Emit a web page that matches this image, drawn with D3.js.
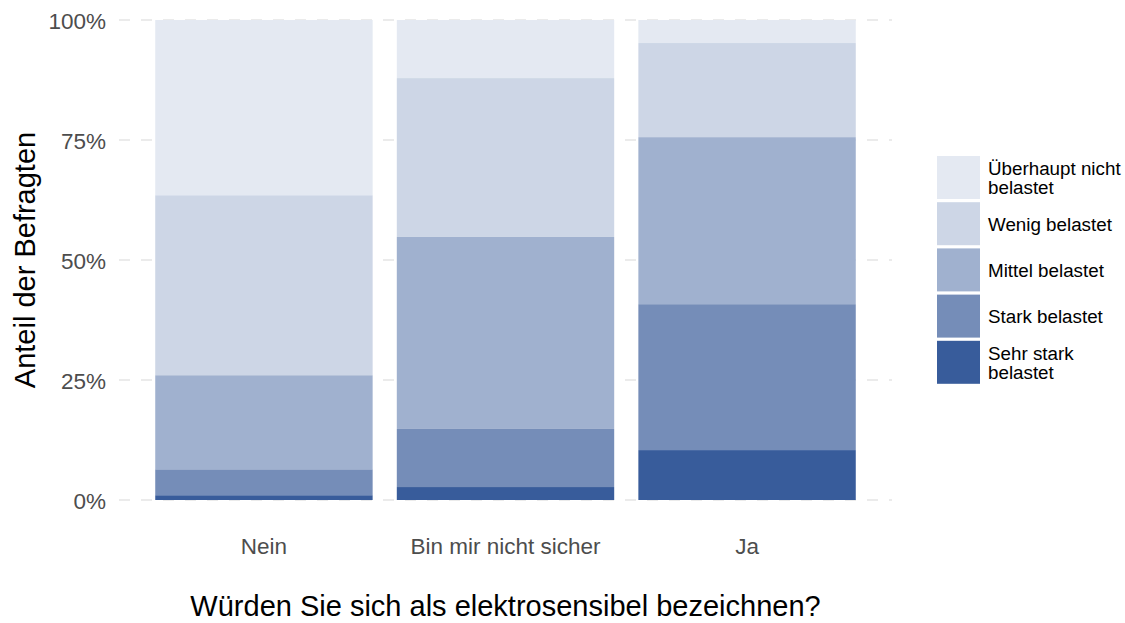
<!DOCTYPE html>
<html>
<head>
<meta charset="utf-8">
<script src="https://cdn.jsdelivr.net/npm/d3@7"></script>
<style>
  body { margin: 0; background: #fff; }
  text { font-family: "Liberation Sans", Arial, Helvetica, sans-serif; }
</style>
</head>
<body>
<script>
// categories on x
var groups = ["Nein", "Bin mir nicht sicher", "Ja"];
// stack levels, bottom to top
var levels = ["Sehr stark belastet", "Stark belastet", "Mittel belastet", "Wenig belastet", "Überhaupt nicht belastet"];
// shares in percent per group
var sehrStark = [1.0, 2.7, 10.4];
var stark     = [5.4, 12.1, 30.4];
var mittel    = [19.6, 40.0, 34.8];
var wenig     = [37.5, 33.1, 19.6];
var ueberhaupt= [36.5, 12.1, 4.8];
var yTicks = [0, 25, 50, 75, 100];

var colors = ["#385c9b", "#758db8", "#a0b1cf", "#cdd6e6", "#e4e9f2"];
var legendLabels = [["Überhaupt nicht", "belastet"], ["Wenig belastet"], ["Mittel belastet"], ["Stark belastet"], ["Sehr stark", "belastet"]];

var width = 1125, height = 623;
var margin = {left: 119, top: 20, right: 233, bottom: 123};
var pw = width - margin.left - margin.right;
var ph = height - margin.top - margin.bottom;

var svg = d3.select("body").append("svg").attr("width", width).attr("height", height);
var g = svg.append("g").attr("transform", "translate(" + margin.left + "," + margin.top + ")");

// table for the stack
var series = [sehrStark, stark, mittel, wenig, ueberhaupt];
var rows = groups.map(function(grp, i) {
  var r = {group: grp};
  levels.forEach(function(l, k) { r[l] = series[k][i]; });
  return r;
});
var stacked = d3.stack().keys(levels)(rows);

// ggplot-like discrete expansion of 0.6 units on each side
var x = d3.scaleLinear().domain([0.4, groups.length + 0.6]).range([0, pw]);
var barW = x(1.45) - x(1.0);
var y = d3.scaleLinear().domain([0, 100]).range([ph, 0]);

// grid
g.selectAll("line.grid").data(yTicks).enter().append("line")
  .attr("class", "grid")
  .attr("x1", 0).attr("x2", pw)
  .attr("y1", function(d) { return y(d); }).attr("y2", function(d) { return y(d); })
  .attr("stroke", "#ebebeb").attr("stroke-width", 2.2)
  .attr("stroke-dasharray", "11,11");

// y axis labels
var yAxis = d3.axisLeft(y).tickValues(yTicks).tickSize(0).tickPadding(13)
  .tickFormat(function(d) { return d + "%"; });
var ya = g.append("g").call(yAxis);
ya.select(".domain").remove();
ya.selectAll("text").attr("fill", "#4d4d4d").attr("dy", "0.36em").style("font-size", "22.5px")
  .style("font-family", "'Liberation Sans', Arial, sans-serif");

// bars
g.selectAll("g.layer").data(stacked).enter().append("g")
  .attr("class", "layer")
  .attr("fill", function(d, k) { return colors[k]; })
  .selectAll("rect").data(function(d) { return d; }).enter().append("rect")
  .attr("x", function(d, i) { return x(i + 1) - barW; })
  .attr("width", 2 * barW)
  .attr("y", function(d) { return y(d[1]); })
  .attr("height", function(d) { return y(d[0]) - y(d[1]); });

// x labels
g.selectAll("text.xl").data(groups).enter().append("text")
  .attr("class", "xl")
  .attr("x", function(d, i) { return x(i + 1); })
  .attr("y", ph + 54)
  .attr("text-anchor", "middle")
  .attr("fill", "#4d4d4d").style("font-size", "22.5px")
  .text(function(d) { return d; });

// axis titles
svg.append("text")
  .attr("x", margin.left + pw / 2).attr("y", 616)
  .attr("text-anchor", "middle").attr("fill", "#000").style("font-size", "29px")
  .text("Würden Sie sich als elektrosensibel bezeichnen?");
svg.append("text")
  .attr("transform", "translate(35," + (margin.top + ph / 2) + ") rotate(-90)")
  .attr("text-anchor", "middle").attr("fill", "#000").style("font-size", "29px")
  .text("Anteil der Befragten");

// legend, lightest first
var lg = svg.append("g").attr("transform", "translate(937,156)");
var legCols = colors.slice().reverse();
var item = lg.selectAll("g.item").data(legendLabels).enter().append("g")
  .attr("class", "item")
  .attr("transform", function(d, i) { return "translate(0," + (i * 46.2) + ")"; });
item.append("rect").attr("width", 43).attr("height", 43)
  .attr("fill", function(d, i) { return legCols[i]; });
item.each(function(d) {
  var t = d3.select(this).append("text").attr("fill", "#000").style("font-size", "18.8px");
  var y0 = 21.5 + 7.2 - (d.length - 1) * 9.5;
  d.forEach(function(line, j) {
    t.append("tspan").attr("x", 51).attr("y", y0 + j * 19).text(line);
  });
});
</script>
</body>
</html>
